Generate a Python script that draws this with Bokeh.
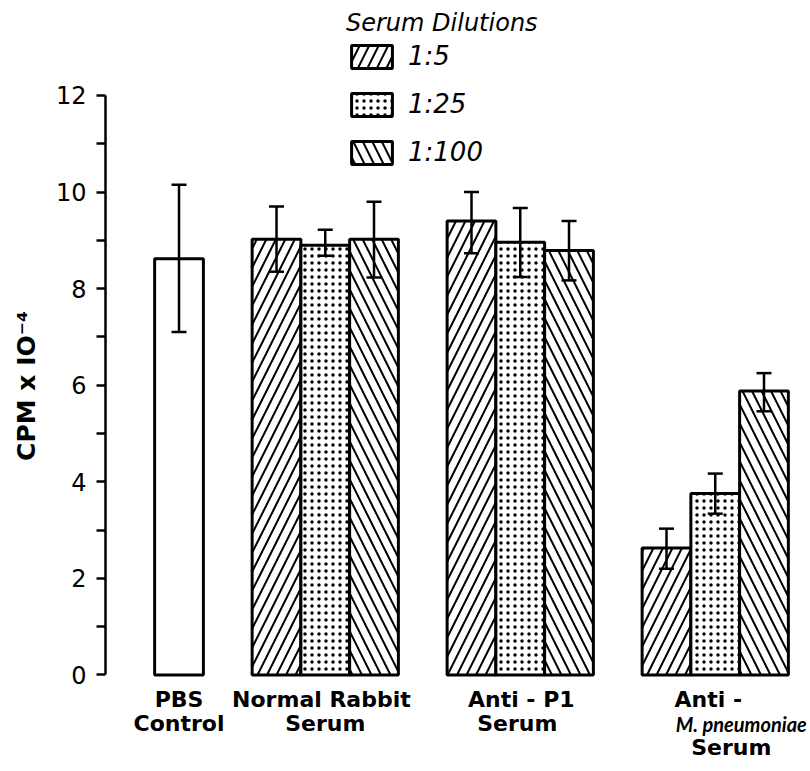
from bokeh.plotting import figure
from bokeh.models import (ColumnDataSource, Whisker, TeeHead, FixedTicker, Range1d,
                          Legend, LegendItem)
from bokeh.core.properties import value
from bokeh.embed import file_html
from bokeh.resources import INLINE

# ---------------- data ----------------
dilutions = ["1:5", "1:25", "1:100"]
serum_groups = ["Normal Rabbit Serum", "Anti - P1 Serum", "Anti - M. pneumoniae Serum"]

pbs_mean = [8.62]
pbs_lower = [7.10]
pbs_upper = [10.15]

mean_1_5 = [9.02, 9.40, 2.63]
lower_1_5 = [8.35, 8.73, 2.20]
upper_1_5 = [9.70, 10.00, 3.03]

mean_1_25 = [8.90, 8.96, 3.76]
lower_1_25 = [8.68, 8.24, 3.34]
upper_1_25 = [9.22, 9.67, 4.17]

mean_1_100 = [9.02, 8.79, 5.88]
lower_1_100 = [8.23, 8.17, 5.46]
upper_1_100 = [9.80, 9.40, 6.25]

y_ticks = [0, 2, 4, 6, 8, 10, 12]
y_minor_ticks = [1, 3, 5, 7, 9, 11]

label_line1 = ["PBS", "Normal  Rabbit", "Anti - P1", "Anti -"]
label_line2 = ["Control", "Serum", "Serum"]
label_italic = ["M. pneumoniae"]
label_line3 = ["Serum"]

# ---------------- layout ----------------
pbs_pos = 0.0
group_pos = [3.0, 7.0, 11.0]
bar_offsets = [-1.0, 0.0, 1.0]
hatches = ["/", ".", "\\"]
FONT_NAME = "DejaVu Sans"
FONT = value(FONT_NAME)

p = figure(width=810, height=771, output_backend="svg", toolbar_location=None,
           x_range=Range1d(-1.508, 12.954), y_range=Range1d(-1.998, 13.965),
           x_axis_location=None, min_border_left=105, min_border_right=0,
           min_border_top=0, min_border_bottom=0)
p.outline_line_color = None
p.grid.visible = False
p.background_fill_color = "white"
p.border_fill_color = "white"

ax = p.yaxis[0]
ax.bounds = (0, 12)
ax.ticker = FixedTicker(ticks=y_ticks, minor_ticks=y_minor_ticks)
ax.axis_line_width = 2.5
ax.axis_line_color = "black"
ax.major_tick_line_color = "black"
ax.minor_tick_line_color = "black"
ax.major_tick_line_width = 2.5
ax.minor_tick_line_width = 2.5
ax.major_tick_in = 0
ax.major_tick_out = 9
ax.minor_tick_in = 0
ax.minor_tick_out = 9
ax.major_label_text_font = FONT_NAME
ax.major_label_text_font_size = "24px"
ax.major_label_text_color = "black"
ax.major_label_standoff = 10
ax.axis_label = "CPM x IO\u207b\u2074"
ax.axis_label_text_font = FONT_NAME
ax.axis_label_text_font_style = "bold"
ax.axis_label_text_font_size = "25px"
ax.axis_label_text_color = "black"
ax.axis_label_standoff = 12

bar_style = dict(width=1.0, bottom=0, fill_color="white", line_color="black",
                 line_width=3, hatch_color="black")
whisker_style = dict(line_width=2.5, line_color="black", level="overlay")


def make_whisker(src):
    return Whisker(source=src, base="x", upper="upper", lower="lower",
                   upper_head=TeeHead(size=15, line_width=2.5, line_color="black"),
                   lower_head=TeeHead(size=15, line_width=2.5, line_color="black"),
                   **whisker_style)


# PBS control bar
pbs_src = ColumnDataSource(dict(x=[pbs_pos], top=pbs_mean, lower=pbs_lower, upper=pbs_upper))
p.vbar(x="x", top="top", source=pbs_src, **bar_style)
p.add_layout(make_whisker(pbs_src))

series = [(mean_1_5, lower_1_5, upper_1_5),
          (mean_1_25, lower_1_25, upper_1_25),
          (mean_1_100, lower_1_100, upper_1_100)]
items = []
for i, (m, lo, hi) in enumerate(series):
    xs = [g + bar_offsets[i] for g in group_pos]
    src = ColumnDataSource(dict(x=xs, top=m, lower=lo, upper=hi))
    scale = 7 if hatches[i] == "." else 19
    weight = 5 if hatches[i] == "." else 2
    r = p.vbar(x="x", top="top", source=src, hatch_pattern=hatches[i],
               hatch_scale=scale, hatch_weight=weight, **bar_style)
    items.append(LegendItem(label=dilutions[i], renderers=[r]))
    p.add_layout(make_whisker(src))

legend = Legend(items=items, location=(241, 604), title="Serum Dilutions",
                title_text_font=FONT_NAME, title_text_font_style="italic",
                title_text_font_size="24px", title_text_color="black", title_standoff=4,
                label_text_font=FONT_NAME, label_text_font_style="italic",
                label_text_font_size="26px", label_text_color="black",
                glyph_width=51, glyph_height=29,
                spacing=18, label_standoff=11, padding=0, margin=0,
                border_line_color=None, background_fill_color=None)
p.add_layout(legend)

# category labels below the bars
xs1 = [pbs_pos] + group_pos
p.text(x=xs1, y=[0] * 4, text=label_line1, text_font=FONT, text_font_style="bold",
       text_font_size="22px", text_align="center", text_baseline="top",
       x_offset=[0, 0, 1, -7], y_offset=12)
p.text(x=xs1[:3], y=[0] * 3, text=label_line2, text_font=FONT, text_font_style="bold",
       text_font_size="22px", text_align="center", text_baseline="top",
       x_offset=[0, 0, -3], y_offset=36)
p.text(x=group_pos[2:], y=[0], text=label_italic, text_font=value("Lato"),
       text_font_style="bold italic", text_font_size="20px", text_align="center",
       text_baseline="top", x_offset=26, y_offset=37)
p.text(x=group_pos[2:], y=[0], text=label_line3, text_font=FONT, text_font_style="bold",
       text_font_size="22px", text_align="center", text_baseline="top",
       x_offset=16, y_offset=60)

open("out.html", "w").write(file_html(p, INLINE))
